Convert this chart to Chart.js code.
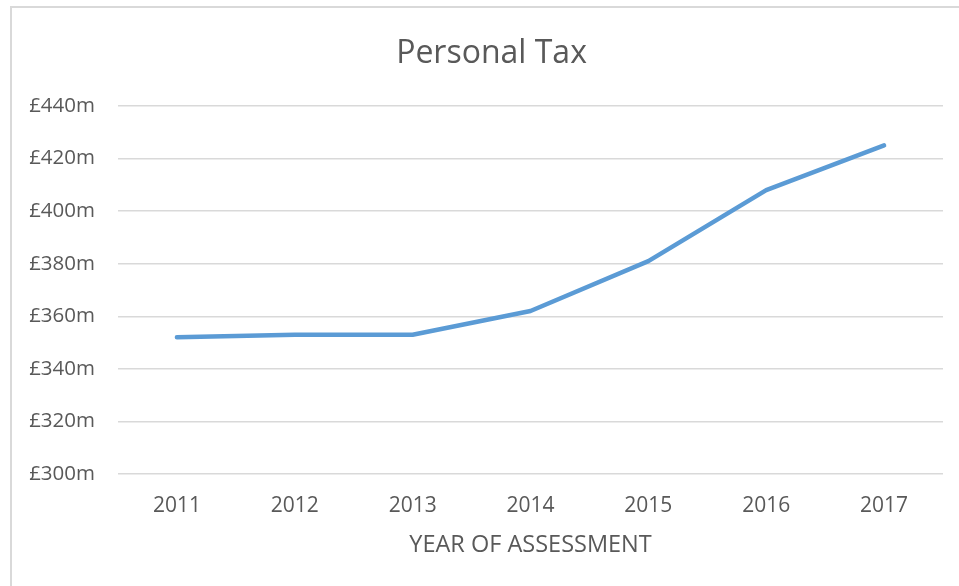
<!DOCTYPE html>
<html>
<head>
<meta charset="utf-8">
<script src="https://cdn.jsdelivr.net/npm/chart.js@4.4.1/dist/chart.umd.min.js"></script>
<style>
  html, body { margin: 0; padding: 0; background: #fff; }
  .frame { position: absolute; left: 10px; top: 6px; width: 1000px; height: 640px; border: 2px solid #d9d9d9; }
  .wrap { position: absolute; left: 0; top: 0; width: 959px; height: 586px; }
</style>
</head>
<body>
<div class="frame"></div>
<div class="wrap"><canvas id="myChart"></canvas></div>
<script>
const years = ['2011', '2012', '2013', '2014', '2015', '2016', '2017'];
const personalTax = [352, 353, 353, 362, 381, 408, 425];
const yTicks = [300, 320, 340, 360, 380, 400, 420, 440];

const textColor = '#595959';

// y labels stick out left of the padded box, so widen the label clip area
const widenYLabels = {
    id: 'widenYLabels',
    afterLayout: function (chart) {
        chart.scales.y.left = 12;
    }
};

document.addEventListener("DOMContentLoaded", function (event) {

    const ctx = document.getElementById('myChart').getContext('2d');
    const myChart = new Chart(ctx, {
        type: 'line',
        data: {
            labels: years,
            datasets: [{
                label: 'Personal Tax',
                data: personalTax,
                borderColor: '#5b9bd5',
                backgroundColor: '#5b9bd5',
                borderWidth: 4.5,
                borderJoinStyle: 'round',
                borderCapStyle: 'round',
                pointRadius: 0,
                tension: 0
            }]
        },
        options: {
            responsive: true,
            maintainAspectRatio: false,
            animation: false,
            layout: {
                // left padding is larger so the title centres where the reference has it
                padding: { left: 40, right: 16, top: 0, bottom: 0 }
            },
            plugins: {
                legend: { display: false },
                tooltip: { enabled: false },
                title: {
                    display: true,
                    text: 'Personal Tax',
                    color: textColor,
                    font: { family: 'Open Sans', size: 32, weight: 'normal' },
                    padding: { top: 35, bottom: 32.6 }
                }
            },
            scales: {
                x: {
                    offset: true,
                    grid: { display: false, drawTicks: false },
                    border: { display: false },
                    ticks: {
                        color: textColor,
                        font: { family: 'Open Sans', size: 21 },
                        padding: 19
                    },
                    title: {
                        display: true,
                        text: 'YEAR OF ASSESSMENT',
                        color: textColor,
                        font: { family: 'Open Sans', size: 23.5 },
                        padding: { top: 0, bottom: 27 }
                    },
                    afterFit: function (scale) { scale.height = 112; }
                },
                y: {
                    min: 300,
                    max: 440,
                    grid: { color: '#d9d9d9', lineWidth: 1.5, drawTicks: false },
                    border: { display: false },
                    afterBuildTicks: function (scale) {
                        scale.ticks = yTicks.map(function (v) { return { value: v }; });
                    },
                    ticks: {
                        color: textColor,
                        font: { family: 'Open Sans', size: 20.5 },
                        padding: 23,
                        callback: function (value) { return '£' + value + 'm'; }
                    },
                    afterFit: function (scale) { scale.width = 78; }
                }
            }
        },
        plugins: [widenYLabels]
    });

})
</script>
</body>
</html>
